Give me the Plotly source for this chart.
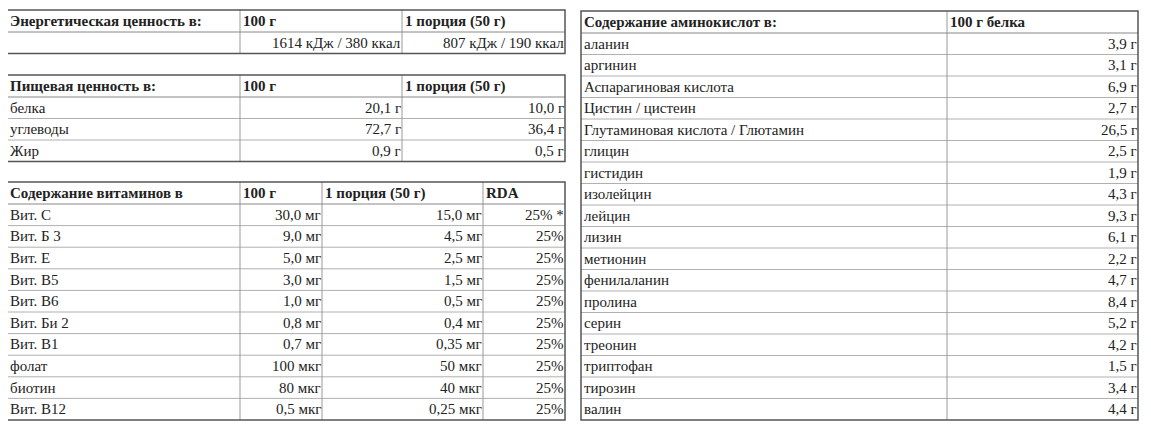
import plotly.graph_objects as go

# data
energy_header = ["Энергетическая ценность в:", "100 г", "1 порция (50 г)"]
energy_rows = [["", "1614 кДж / 380 ккал", "807 кДж / 190 ккал"]]

nutr_header = ["Пищевая ценность в:", "100 г", "1 порция (50 г)"]
nutr_names = ["белка", "углеводы", "Жир"]
nutr_100 = ["20,1 г", "72,7 г", "0,9 г"]
nutr_portion = ["10,0 г", "36,4 г", "0,5 г"]

vit_header = ["Содержание витаминов в", "100 г", "1 порция (50 г)", "RDA"]
vit_names = ["Вит. С", "Вит. Б 3", "Вит. Е", "Вит. В5", "Вит. В6", "Вит. Би 2",
             "Вит. В1", "фолат", "биотин", "Вит. В12"]
vit_100 = ["30,0 мг", "9,0 мг", "5,0 мг", "3,0 мг", "1,0 мг", "0,8 мг", "0,7 мг",
           "100 мкг", "80 мкг", "0,5 мкг"]
vit_portion = ["15,0 мг", "4,5 мг", "2,5 мг", "1,5 мг", "0,5 мг", "0,4 мг", "0,35 мг",
               "50 мкг", "40 мкг", "0,25 мкг"]
vit_rda = ["25% *", "25%", "25%", "25%", "25%", "25%", "25%", "25%", "25%", "25%"]

amino_header = ["Содержание аминокислот в:", "100 г белка"]
amino_names = ["аланин", "аргинин", "Аспарагиновая кислота", "Цистин / цистеин",
               "Глутаминовая кислота / Глютамин", "глицин", "гистидин", "изолейцин",
               "лейцин", "лизин", "метионин", "фенилаланин", "пролина", "серин",
               "треонин", "триптофан", "тирозин", "валин"]
amino_vals = ["3,9 г", "3,1 г", "6,9 г", "2,7 г", "26,5 г", "2,5 г", "1,9 г", "4,3 г",
              "9,3 г", "6,1 г", "2,2 г", "4,7 г", "8,4 г", "5,2 г", "4,2 г", "1,5 г",
              "3,4 г", "4,4 г"]

W, H = 1151, 429
OFF = 8  # page body margin
FONT = "Liberation Serif, Times New Roman, serif"
shapes, annots = [], []


def line(x0, y0, x1, y1, color, w=1):
    shapes.append(dict(type="line", x0=x0, y0=y0, x1=x1, y1=y1, xref="x", yref="y",
                       line=dict(color=color, width=w)))


def text(x, y, s, anchor, bold=False):
    annots.append(dict(x=x, y=y, xref="x", yref="y", text=f"<b>{s}</b>" if bold else s,
                       showarrow=False, xanchor=anchor, yanchor="middle",
                       font=dict(family=FONT, size=15, color="#222")))


def table(cols, top, head_h, row_h, header, rows):
    n = len(rows)
    bottom = top + head_h + row_h * n
    ys = [top + head_h + row_h * i for i in range(n)]
    for y in ys[1:]:
        line(cols[0], y, cols[-1], y, "#b0b0b0")
    for x in cols[1:-1]:
        line(x, top, x, bottom, "#999")
    line(cols[0], top + head_h, cols[-1], top + head_h, "#888")
    shapes.append(dict(type="rect", x0=cols[0], y0=top, x1=cols[-1], y1=bottom,
                       xref="x", yref="y", line=dict(color="#555", width=1.5)))
    for i, h in enumerate(header):
        text(cols[i] + 1, top + head_h / 2, h, "left", bold=True)
    for r, row in enumerate(rows):
        yc = ys[r] + row_h / 2
        for i, v in enumerate(row):
            if i == 0:
                text(cols[0] + 1, yc, v, "left")
            else:
                text(cols[i + 1] + 1, yc, v, "right")


table([7, 240, 402, 565], 10, 22, 21.5, energy_header, energy_rows)
table([7, 240, 402, 565], 75, 22, 21.5, nutr_header,
      list(zip(nutr_names, nutr_100, nutr_portion)))
table([7, 240, 322, 483, 565], 182, 22, 21.6, vit_header,
      list(zip(vit_names, vit_100, vit_portion, vit_rda)))
table([581, 947, 1138], 11, 22, 21.5, amino_header,
      list(zip(amino_names, amino_vals)))

fig = go.Figure()
fig.update_layout(width=W, height=H, margin=dict(l=0, r=0, t=0, b=0),
                  plot_bgcolor="white", paper_bgcolor="white",
                  xaxis=dict(range=[OFF, W + OFF], visible=False, fixedrange=True),
                  yaxis=dict(range=[H + OFF, OFF], visible=False, fixedrange=True),
                  shapes=shapes, annotations=annots, showlegend=False)
fig.write_html("out.html")
